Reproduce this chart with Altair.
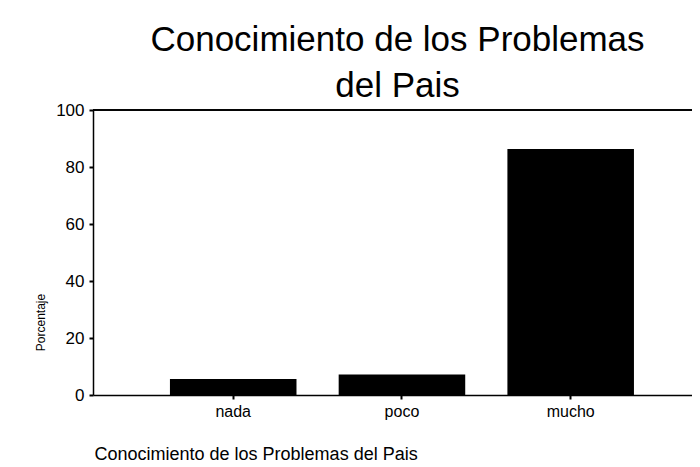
import altair as alt
import pandas as pd

categories = ["nada", "poco", "mucho"]
percentages = [5.6, 7.2, 86.3]
y_ticks = [0, 20, 40, 60, 80, 100]

df = pd.DataFrame({"cat": categories, "pct": percentages})

FONT = "Liberation Sans"

bars = alt.Chart(df).mark_bar(color="black").encode(
    x=alt.X(
        "cat:N",
        sort=categories,
        scale=alt.Scale(paddingInner=0.25, paddingOuter=0.4, align=0.57),
        axis=alt.Axis(
            title="Conocimiento de los Problemas del Pais",
            titleFont=FONT, titleFontSize=18, titleFontWeight="normal",
            titleColor="black", titleAnchor="start", titleAlign="left",
            titleX=1, titleY=64, titleBaseline="alphabetic",
            labelFont=FONT, labelFontSize=16, labelColor="black",
            labelAngle=0, labelPadding=4,
            domainColor="black", domainWidth=1.5,
            tickColor="black", tickSize=4, tickWidth=2,
        ),
    ),
    y=alt.Y(
        "pct:Q",
        scale=alt.Scale(domain=[0, 100]),
        axis=alt.Axis(
            values=y_ticks, grid=False,
            title="Porcentaje",
            titleFont=FONT, titleFontSize=12, titleFontWeight="normal",
            titleColor="black", titleX=-53, titleY=212,
            titleAlign="center", titleBaseline="middle",
            labelFont=FONT, labelFontSize=17, labelColor="black",
            labelPadding=5,
            domainColor="black", domainWidth=1.5,
            tickColor="black", tickSize=4, tickWidth=2,
        ),
    ),
)

top_line = alt.Chart(df).mark_rule(color="black", strokeWidth=1.5).encode(
    y=alt.datum(100)
)

chart = alt.layer(bars, top_line).properties(
    width=599,
    height=285,
    title=alt.TitleParams(
        text=["Conocimiento de los Problemas", "del Pais"],
        font=FONT, fontSize=35, fontWeight="normal", color="black",
        anchor="middle", lineHeight=46, baseline="alphabetic",
        offset=17, dx=5, dy=48,
    ),
    autosize=alt.AutoSizeParams(type="none"),
    padding={"left": 85, "top": 102, "right": 0, "bottom": 70},
).configure_view(stroke=None)

chart.save("out.html", embed_options={"renderer": "svg", "actions": False})
